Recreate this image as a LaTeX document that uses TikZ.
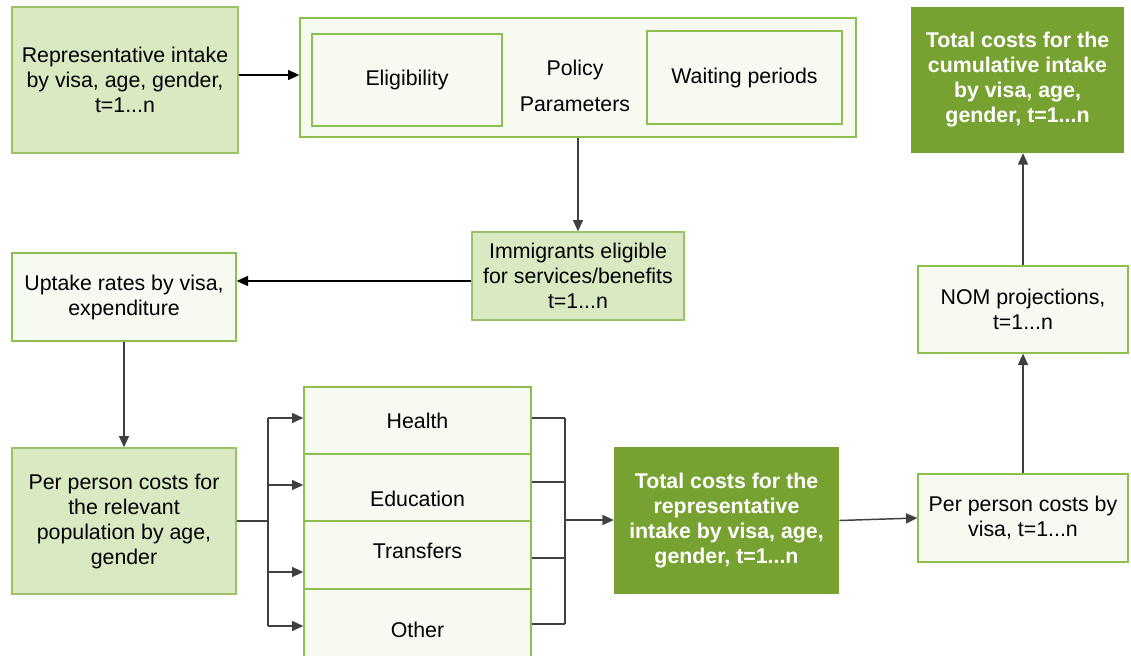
\documentclass[tikz,border=0pt]{standalone}
\usepackage{fontspec}
\setmainfont{Liberation Sans}
\usetikzlibrary{arrows.meta,positioning,calc}
\definecolor{leaf}{HTML}{D9EAC3}
\definecolor{leafline}{HTML}{9BC268}
\definecolor{pale}{HTML}{F6FAF0}
\definecolor{paleline}{HTML}{8CBF4E}
\definecolor{moss}{HTML}{77A232}
\definecolor{flowgrey}{HTML}{404040}

\begin{document}
\begin{tikzpicture}[x=0.75pt,y=-0.75pt,
    every node/.style={font=\fontsize{16}{18.75}\selectfont,align=center,inner sep=0pt},
    boxsize/.style 2 args={minimum width=#1*0.75pt,minimum height=#2*0.75pt},
    lightbox/.style={draw=leafline,fill=leaf,line width=1pt},
    palebox/.style={draw=paleline,fill=pale,line width=1pt},
    darkbox/.style={fill=moss,text=white,font=\fontsize{16}{18.75}\selectfont\bfseries},
    link/.style={draw=flowgrey,line width=1.1pt},
    flow/.style={link,-{Triangle[length=8.5pt,width=7.5pt]}}]
  \useasboundingbox (0,0) rectangle (1131,656);
  % top row
  \node[lightbox,boxsize={226}{146}] (intake) at (125,80) {Representative intake\\by visa, age, gender,\\t=1...n};
  \node[palebox,boxsize={556}{119}] (policy) at (578,77.5) {};
  \node[palebox,boxsize={190}{92}] (elig) at (407,80) {Eligibility};
  \node[palebox,boxsize={195}{93}] (wait) at (744.5,77.5) {Waiting periods};
  \node (policytxt) at (575,86) {Policy\\[8.25pt]Parameters};
  \node[darkbox,boxsize={213}{146}] (cumul) at (1017.5,80) {Total costs for the\\cumulative intake\\by visa, age,\\gender, t=1...n};
  % middle row
  \node[lightbox,boxsize={212}{88}] (eligible) at (578,276) {Immigrants eligible\\for services/benefits\\t=1...n};
  \node[palebox,boxsize={224}{88}] (uptake) at (124,297) {Uptake rates by visa,\\expenditure};
  \node[palebox,boxsize={210}{87}] (nom) at (1023,309.5) {NOM projections,\\t=1...n};
  % bottom row
  \node[lightbox,boxsize={224}{146}] (percap) at (124,521) {Per person costs for\\the relevant\\population by age,\\gender};
  \node[palebox,boxsize={227}{67}] (health) at (417.5,420.5) {};
  \node[palebox,boxsize={227}{67}] (educ) at (417.5,487.5) {};
  \node[palebox,boxsize={227}{68}] (trans) at (417.5,555) {};
  \node[palebox,boxsize={227}{70}] (other) at (417.5,624) {};
  \node (healthtxt) at (417.5,420.5) {Health};
  \node (eductxt) at (417.5,499) {Education};
  \node (transtxt) at (417.5,551) {Transfers};
  \node (othertxt) at (417.5,630) {Other};
  \node[darkbox,boxsize={225}{147}] (reptotal) at (726.5,520.5) {Total costs for the\\representative\\intake by visa, age,\\gender, t=1...n};
  \node[palebox,boxsize={210}{88}] (pervisa) at (1023,518) {Per person costs by\\visa, t=1...n};

  % connectors
  \coordinate (intakeout) at ($(intake.east)+(0,-5)$);
  \draw[flow,draw=black] (intakeout) -- (intakeout -| policy.west);
  \draw[flow] (policy) -- (eligible);
  \coordinate (eligout) at ($(eligible.west)+(0,5)$);
  \draw[flow,draw=black] (eligout) -- (eligout -| uptake.east);
  \draw[flow] (uptake) -- (percap);
  \coordinate (split) at (268,521);
  \draw[link] (percap.east) -- (split);
  \foreach \b/\dy in {health/-2.5,educ/-2.5,trans/17,other/2} {
    \coordinate (in\b) at ($(\b.west)+(0,\dy)$);
    \draw[flow] (split |- in\b) -- (in\b);
  }
  \draw[link] (split |- inhealth) -- (split |- inother);
  \coordinate (join) at (565,520);
  \foreach \b/\dy in {health/-2.5,educ/-5.5,trans/3,other/0} {
    \coordinate (out\b) at ($(\b.east)+(0,\dy)$);
    \draw[link] (out\b) -- (join |- out\b);
  }
  \draw[link] (join |- outhealth) -- (join |- outother);
  \draw[flow] (join) -- (join -| reptotal.west);
  \draw[flow] (reptotal.east) -- (pervisa.west);
  \draw[flow] (pervisa) -- (nom);
  \draw[flow] (nom.north) -- (nom.north |- cumul.south);
\end{tikzpicture}
\end{document}
